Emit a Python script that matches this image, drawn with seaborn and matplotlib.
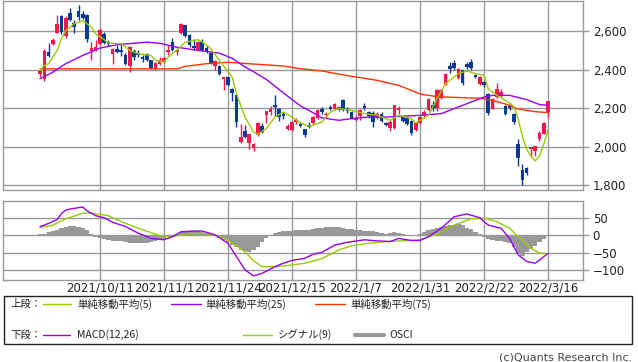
import matplotlib
matplotlib.use("Agg")
import numpy as np
import pandas as pd
import matplotlib.pyplot as plt
import seaborn as sns
from matplotlib.patches import Rectangle

sns.set_theme(style="white")
plt.rcParams['font.family'] = ['DejaVu Sans', 'Noto Sans CJK JP']

# 日足 (2021/9/17 ～ 2022/3/16, 120本)
open_ = [2378, 2350, 2492, 2536, 2593, 2680, 2575, 2695, 2645, 2707, 2690, 2685, 2500, 2505, 2536, 2588, 2545, 2480, 2506, 2505,
         2478, 2420, 2500, 2490, 2468, 2480, 2450, 2406, 2432, 2440, 2492, 2545, 2492, 2590, 2631, 2580, 2522, 2505, 2545, 2515,
         2487, 2420, 2420, 2350, 2362, 2302, 2267, 2025, 2080, 2020, 1995, 2060, 2105, 2163, 2182, 2215, 2198, 2172, 2090, 2086,
         2128, 2120, 2090, 2115, 2123, 2150, 2198, 2165, 2205, 2198, 2190, 2245, 2195, 2178, 2140, 2160, 2213, 2182, 2175, 2148,
         2170, 2123, 2098, 2096, 2190, 2160, 2148, 2135, 2085, 2125, 2160, 2192, 2218, 2200, 2255, 2328, 2418, 2435, 2355, 2398,
         2428, 2440, 2372, 2326, 2336, 2275, 2198, 2260, 2270, 2210, 2210, 2172, 2016, 1877, 1888, 1990, 1978, 2038, 2068, 2182]
high = [2405, 2508, 2540, 2565, 2683, 2685, 2680, 2720, 2660, 2735, 2705, 2690, 2545, 2555, 2620, 2595, 2555, 2512, 2530, 2540,
        2485, 2522, 2510, 2505, 2478, 2490, 2452, 2442, 2465, 2468, 2530, 2565, 2512, 2645, 2635, 2585, 2560, 2548, 2560, 2530,
        2490, 2450, 2425, 2365, 2365, 2305, 2270, 2120, 2115, 2068, 2020, 2128, 2125, 2186, 2210, 2267, 2200, 2180, 2120, 2130,
        2150, 2128, 2092, 2130, 2160, 2198, 2205, 2180, 2215, 2228, 2212, 2248, 2205, 2185, 2158, 2196, 2225, 2186, 2188, 2178,
        2182, 2130, 2140, 2218, 2210, 2165, 2152, 2140, 2125, 2160, 2190, 2255, 2235, 2300, 2300, 2385, 2440, 2450, 2410, 2400,
        2440, 2458, 2380, 2368, 2342, 2280, 2255, 2330, 2300, 2215, 2225, 2175, 2038, 1908, 1895, 2000, 2005, 2080, 2128, 2240]
low = [2365, 2340, 2465, 2530, 2590, 2585, 2565, 2655, 2590, 2660, 2665, 2545, 2450, 2500, 2530, 2535, 2525, 2430, 2487, 2470,
       2425, 2390, 2450, 2465, 2440, 2445, 2405, 2400, 2425, 2436, 2475, 2500, 2475, 2588, 2570, 2520, 2505, 2503, 2500, 2488,
       2432, 2400, 2375, 2295, 2315, 2240, 2100, 2018, 2045, 1990, 1978, 2055, 2070, 2125, 2165, 2160, 2132, 2145, 2085, 2082,
       2120, 2100, 2052, 2095, 2118, 2145, 2170, 2150, 2190, 2192, 2186, 2185, 2175, 2142, 2135, 2140, 2192, 2150, 2102, 2142,
       2130, 2105, 2080, 2090, 2170, 2128, 2112, 2062, 2080, 2118, 2150, 2185, 2188, 2188, 2250, 2320, 2385, 2400, 2350, 2320,
       2405, 2400, 2355, 2320, 2310, 2165, 2195, 2255, 2260, 2165, 2190, 2120, 1900, 1798, 1850, 1945, 1950, 2030, 2065, 2155]
close = [2392, 2500, 2472, 2557, 2640, 2595, 2670, 2662, 2625, 2674, 2672, 2560, 2512, 2518, 2605, 2542, 2535, 2510, 2494, 2495,
         2428, 2518, 2468, 2478, 2456, 2452, 2408, 2436, 2452, 2462, 2505, 2505, 2505, 2636, 2575, 2528, 2512, 2545, 2505, 2500,
         2437, 2444, 2380, 2362, 2320, 2280, 2130, 2050, 2052, 2064, 2012, 2125, 2078, 2184, 2198, 2205, 2156, 2162, 2106, 2128,
         2140, 2108, 2058, 2102, 2153, 2192, 2178, 2172, 2196, 2222, 2207, 2190, 2185, 2148, 2150, 2192, 2200, 2158, 2130, 2172,
         2135, 2112, 2130, 2215, 2200, 2135, 2118, 2072, 2122, 2155, 2180, 2250, 2200, 2293, 2295, 2380, 2405, 2412, 2405, 2330,
         2414, 2408, 2362, 2365, 2322, 2175, 2250, 2300, 2282, 2170, 2200, 2130, 1940, 1825, 1862, 1998, 2002, 2070, 2125, 2238]

# 移動平均 (読み取り値)
ma5_x = [0, 1, 2, 4, 5, 6, 8, 10, 12, 13, 15, 16, 19, 21, 23, 26, 27, 29, 30, 32, 34, 37, 38, 40, 42, 45, 46, 48, 50, 51,
         53, 55, 57, 59, 61, 63, 66, 68, 70, 73, 76, 79, 82, 84, 87, 88, 91, 93, 95, 98, 100, 102, 104, 105, 107, 109, 111,
         112, 113, 114, 115, 116, 117, 118, 119]
ma5_y = [2397, 2423, 2432, 2501, 2562, 2605, 2640, 2657, 2622, 2588, 2557, 2539, 2536, 2501, 2484, 2475, 2449, 2440, 2466,
         2501, 2544, 2557, 2545, 2510, 2449, 2362, 2276, 2154, 2076, 2064, 2094, 2154, 2180, 2154, 2123, 2106, 2128, 2180, 2198,
         2189, 2172, 2163, 2137, 2163, 2146, 2123, 2163, 2250, 2328, 2380, 2394, 2380, 2371, 2302, 2267, 2241, 2210, 2144, 2055,
         1985, 1951, 1925, 1951, 2011, 2087]
ma25_x = [0, 3, 6, 10, 14, 18, 25, 28, 32, 37, 42, 45, 48, 50, 53, 57, 61, 64, 66, 70, 73, 77, 81, 85, 89, 94, 97, 101,
          104, 106, 110, 114, 117, 119]
ma25_y = [2354, 2388, 2432, 2475, 2513, 2531, 2544, 2538, 2518, 2501, 2487, 2460, 2415, 2390, 2350, 2280, 2212, 2176, 2150,
          2137, 2146, 2154, 2154, 2158, 2163, 2172, 2198, 2232, 2258, 2267, 2267, 2245, 2219, 2215]
ma75_x = [0, 32, 34, 39, 44, 48, 57, 61, 66, 73, 79, 84, 87, 89, 93, 99, 103, 106, 109, 112, 116, 119]
ma75_y = [2405, 2405, 2418, 2432, 2439, 2433, 2420, 2406, 2394, 2366, 2345, 2319, 2293, 2274, 2260, 2255, 2252, 2241, 2222,
          2196, 2182, 2177]

# MACD
macd_x = [0, 1, 2, 4, 5, 6, 7, 10, 11, 13, 15, 17, 20, 23, 26, 29, 31, 33, 36, 38, 41, 44, 46, 48, 50, 52, 55, 57, 59, 62,
          64, 66, 69, 72, 76, 79, 82, 84, 87, 89, 91, 94, 97, 100, 103, 105, 108, 110, 112, 114, 116, 117, 119]
macd_y = [25, 29, 34, 45, 62, 72, 75, 81, 70, 56, 50, 37, 25, 6, -9, -13, -4, 10, 12, 12, 1, -23, -61, -99, -116, -109, -90,
          -80, -72, -66, -54, -49, -28, -20, -13, -16, -18, -9, -15, -15, -4, 20, 53, 61, 50, 29, 20, -9, -56, -75, -80, -71, -52]
signal_x = [0, 3, 6, 10, 12, 16, 19, 23, 28, 31, 34, 38, 41, 44, 48, 50, 52, 55, 59, 62, 66, 70, 73, 77, 81, 85, 89, 93, 97,
            101, 104, 107, 110, 112, 115, 117, 119]
signal_y = [22, 29, 47, 63, 63, 56, 39, 20, -1, -4, 3, 6, 1, -13, -47, -73, -90, -90, -85, -80, -67, -42, -30, -23, -18, -16,
            -13, 3, 29, 47, 49, 39, 20, -4, -37, -51, -53]
osci = [3, 5, 8, 12, 16, 20, 23, 26, 27, 25, 22, 14, 5,
        -4, -8, -11, -13, -15, -16, -17, -19, -21, -22, -23, -22, -21, -19, -16, -13, -10, -6, -2,
        5, 10, 12, 12, 12, 11, 9, 6, 2,
        -3, -8, -14, -20, -28, -35, -42, -46, -47, -43, -35, -20, -8,
        2, 6, 9, 11, 13, 13, 14, 14, 14, 16, 18, 20,
        22, 23, 24, 24, 23, 21, 19, 17, 15, 14, 13, 12, 11, 9,
        7, 5, 6, 8, 6, 3, 1, 0, 1,
        5, 10, 14, 17, 20, 24, 27, 28, 30, 32, 28, 22, 17, 10, 3,
        -5, -10, -14, -16, -17, -19, -22, -35, -52, -58, -48, -38, -30, -20, -10, -2]

tick_bar = [14, 29, 44, 59, 74, 89, 104, 119]
tick_labels = ["2021/10/11", "2021/11/1", "2021/11/24", "2021/12/15", "2022/1/7", "2022/1/31", "2022/2/22", "2022/3/16"]

upper_labels = ["単純移動平均(5)", "単純移動平均(25)", "単純移動平均(75)"]
lower_labels = ["MACD(12,26)", "シグナル(9)", "OSCI"]

UP = "#f5164a"
DOWN = "#0a3a95"
C_MA5 = "#99cc00"
C_MA25 = "#9900ff"
C_MA75 = "#ff3300"
GRID = "#999999"

df = pd.DataFrame({'open': open_, 'high': high, 'low': low, 'close': close})
df['bar'] = np.arange(len(df))

fig = plt.figure(figsize=(6.38, 3.62), dpi=100)
W, H = 638, 362
ax1 = fig.add_axes([3 / W, 1 - 190 / H, 580 / W, 189.5 / H])
ax2 = fig.add_axes([3 / W, 1 - 280 / H, 580 / W, 79 / H])

# ---- 上段: ローソク足 + 移動平均 ----
is_up = df['close'] >= df['open']
colors = np.where(is_up, UP, DOWN)
body_low = df[['open', 'close']].min(axis=1)
body_h = (df['close'] - df['open']).abs().clip(lower=5)
ax1.vlines(df['bar'], df['low'], df['high'], colors=colors, lw=1, zorder=3)
ax1.bar(df['bar'], body_h, bottom=body_low, width=0.85, color=colors, lw=0, zorder=4)

sns.lineplot(x=ma75_x, y=ma75_y, ax=ax1, color=C_MA75, lw=1, zorder=5)
sns.lineplot(x=ma25_x, y=ma25_y, ax=ax1, color=C_MA25, lw=1, zorder=5)
sns.lineplot(x=ma5_x, y=ma5_y, ax=ax1, color=C_MA5, lw=1, zorder=6)

ax1.set_xlim(-8.7, 127.2)
ax1.set_ylim(1774, 2761)
ax1.set_xticks(tick_bar)
ax1.set_xticklabels([])
ax1.set_yticks([1800, 2000, 2200, 2400, 2600])
ax1.set_yticklabels([f"{v:,}" for v in [1800, 2000, 2200, 2400, 2600]])

# ---- 下段: MACD ----
ax2.bar(np.arange(len(osci)), osci, width=1.0, color=GRID, lw=0, zorder=3)
sns.lineplot(x=signal_x, y=signal_y, ax=ax2, color=C_MA5, lw=1, zorder=5)
sns.lineplot(x=macd_x, y=macd_y, ax=ax2, color=C_MA25, lw=1, zorder=6)
ax2.set_xlim(-8.7, 127.2)
ax2.set_ylim(-128, 98)
ax2.set_xticks(tick_bar)
ax2.set_xticklabels(tick_labels)
ax2.set_yticks([-100, -50, 0, 50])
ax2.set_yticklabels(["\u2212100", "\u221250", "0", "50"])

for ax in (ax1, ax2):
    ax.grid(True, color=GRID, lw=1)
    ax.set_axisbelow(True)
    ax.set_xlabel("")
    ax.set_ylabel("")
    for s in ax.spines.values():
        s.set_color(GRID)
        s.set_linewidth(1)
    ax.yaxis.tick_right()
    ax.tick_params(axis='y', direction='out', length=4, width=1, color=GRID,
                   labelsize=8.5, pad=3, labelcolor='#222222')
    ax.tick_params(axis='x', length=0, labelsize=8.5, pad=1, labelcolor='#222222')

# ---- 凡例 ----
lg = fig.add_axes([0, 0, 1, 1])
lg.set_xlim(0, W)
lg.set_ylim(H, 0)
lg.axis('off')
lg.add_patch(Rectangle((3.5, 296), 628, 48, fill=False, ec='#222222', lw=1))

jp = ['Noto Sans CJK JP', 'DejaVu Sans']
lg.text(10, 304, "上段：", fontsize=7.5, family=jp, va='center', color='#222222')
lg.text(10, 335, "下段：", fontsize=7.5, family=jp, va='center', color='#222222')

for (x0, x1, xt), lab, col in zip([(43, 71, 77), (171, 201, 205), (315, 345, 350)], upper_labels,
                                  [C_MA5, C_MA25, C_MA75]):
    lg.plot([x0, x1], [304, 304], color=col, lw=1)
    lg.text(xt, 304, lab, fontsize=7.5, family=jp, va='center', color='#222222')

for (x0, x1, xt), lab, col, lw in zip([(43, 70, 77), (243, 272, 278), (355, 384, 389)], lower_labels,
                                      [C_MA25, C_MA5, GRID], [1, 1, 3]):
    lg.plot([x0, x1], [335, 335], color=col, lw=lw)
    lg.text(xt, 335, lab, fontsize=7.5, family=jp, va='center', color='#222222')

lg.text(632, 357, "(c)Quants Research Inc.", fontsize=8, ha='right', va='center', color='#444444')

fig.savefig("out.png", dpi=100)
